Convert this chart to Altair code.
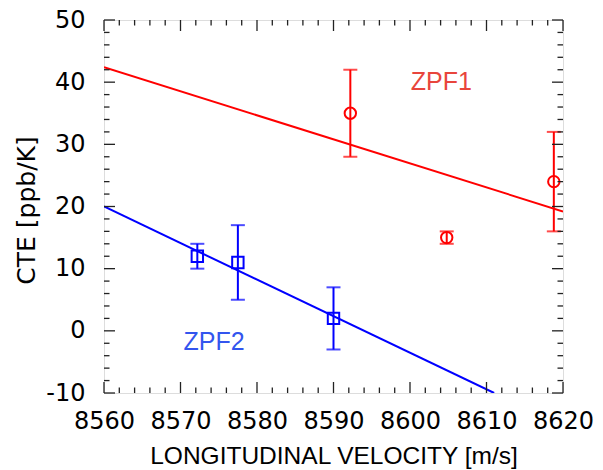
import altair as alt
import pandas as pd

# ---- data ----
zpf1_v = [8592.2, 8604.8, 8618.8]
zpf1_cte = [35, 15, 24]
zpf1_lo = [28, 14, 16]
zpf1_hi = [42, 16, 32]

zpf2_v = [8572.2, 8577.5, 8590.0]
zpf2_cte = [12, 11, 2]
zpf2_lo = [10, 5, -3]
zpf2_hi = [14, 17, 7]

fit1_v = [8560, 8620]
fit1_cte = [42.4, 19.2]
fit2_v = [8560, 8611]
fit2_cte = [20, -10]

label_text = ["ZPF1", "ZPF2"]
label_v = [8604.1, 8574.4]
label_cte = [40, -1.8]

x_ticks_major = list(range(8560, 8621, 10))
x_ticks_minor = [v for v in range(8560, 8621, 2) if v % 10 != 0]
y_ticks_major = list(range(-10, 51, 10))
y_ticks_minor = [v for v in range(-10, 51, 2) if v % 10 != 0]

W, H = 459, 373
MAJ, MIN = 11, 5.5
FONT = "DejaVu Sans"
TFONT = "Liberation Sans"
RED, BLUE = "#ff0000", "#0000ff"

xs = alt.Scale(domain=[8560, 8620], nice=False, zero=False)
ys = alt.Scale(domain=[-10, 50], nice=False, zero=False)

xaxis = alt.Axis(values=x_ticks_major, labelExpr="'' + datum.value", ticks=False,
                 domain=False, grid=False,
                 labelFontSize=24, labelFont=FONT, labelColor="black", labelPadding=16,
                 title="LONGITUDINAL VELOCITY [m/s]", titleFont=TFONT, titleFontSize=24.5,
                 titleFontWeight="normal", titleColor="black",
                 titleY=70, titleBaseline="alphabetic",
                 labelFlush=False)
yaxis = alt.Axis(values=y_ticks_major, labelExpr="'' + datum.value", ticks=False,
                 domain=False, grid=False,
                 labelFontSize=24, labelFont=FONT, labelColor="black", labelPadding=19,
                 title="CTE [ppb/K]", titleFont=FONT, titleFontSize=25,
                 titleFontWeight="normal", titleColor="black",
                 titleX=-70, titleY=190, titleBaseline="alphabetic", titleAngle=270,
                 labelFlush=False)

d1 = pd.DataFrame({"v": zpf1_v, "cte": zpf1_cte, "lo": zpf1_lo, "hi": zpf1_hi})
d2 = pd.DataFrame({"v": zpf2_v, "cte": zpf2_cte, "lo": zpf2_lo, "hi": zpf2_hi})
f1 = pd.DataFrame({"v": fit1_v, "cte": fit1_cte})
f2 = pd.DataFrame({"v": fit2_v, "cte": fit2_cte})
lab = pd.DataFrame({"t": label_text, "v": label_v, "cte": label_cte, "c": ["#e8453c", "#3355ee"]})

base_axes = alt.Chart(f1).mark_line(color=RED, strokeWidth=2, clip=True).encode(
    x=alt.X("v:Q", scale=xs, axis=xaxis),
    y=alt.Y("cte:Q", scale=ys, axis=yaxis),
)
line2 = alt.Chart(f2).mark_line(color=BLUE, strokeWidth=2, clip=True).encode(
    x=alt.X("v:Q", scale=xs), y=alt.Y("cte:Q", scale=ys))


def errs(df, color, shape):
    rule = alt.Chart(df).mark_rule(color=color, strokeWidth=2).encode(
        x=alt.X("v:Q", scale=xs), y=alt.Y("lo:Q", scale=ys), y2="hi:Q")
    caplo = alt.Chart(df).mark_tick(color=color, thickness=2, size=14, orient="horizontal").encode(
        x=alt.X("v:Q", scale=xs), y=alt.Y("lo:Q", scale=ys))
    caphi = alt.Chart(df).mark_tick(color=color, thickness=2, size=14, orient="horizontal").encode(
        x=alt.X("v:Q", scale=xs), y=alt.Y("hi:Q", scale=ys))
    pts = alt.Chart(df).mark_point(color=color, shape=shape, filled=False,
                                   strokeWidth=2, size=130, opacity=1).encode(
        x=alt.X("v:Q", scale=xs), y=alt.Y("cte:Q", scale=ys))
    return [rule, caplo, caphi, pts]


labels = alt.Chart(lab).mark_text(font=TFONT, fontSize=25, align="center",
                                  baseline="middle").encode(
    x=alt.X("v:Q", scale=xs), y=alt.Y("cte:Q", scale=ys),
    text="t:N", color=alt.Color("c:N", scale=None))


def tick_layers():
    out = []
    tx_maj = pd.DataFrame({"v": x_ticks_major})
    tx_min = pd.DataFrame({"v": x_ticks_minor})
    ty_maj = pd.DataFrame({"c": y_ticks_major})
    ty_min = pd.DataFrame({"c": y_ticks_minor})
    for df, L in [(tx_maj, MAJ), (tx_min, MIN)]:
        out.append(alt.Chart(df).mark_rule(color="#222", strokeWidth=1.3).encode(
            x=alt.X("v:Q", scale=xs), y=alt.value(H), y2=alt.value(H - L)))
        out.append(alt.Chart(df).mark_rule(color="#222", strokeWidth=1.3).encode(
            x=alt.X("v:Q", scale=xs), y=alt.value(0), y2=alt.value(L)))
    for df, L in [(ty_maj, MAJ), (ty_min, MIN)]:
        out.append(alt.Chart(df).mark_rule(color="#222", strokeWidth=1.3).encode(
            y=alt.Y("c:Q", scale=ys), x=alt.value(0), x2=alt.value(L)))
        out.append(alt.Chart(df).mark_rule(color="#222", strokeWidth=1.3).encode(
            y=alt.Y("c:Q", scale=ys), x=alt.value(W), x2=alt.value(W - L)))
    return out


chart = alt.layer(
    base_axes, line2,
    *errs(d1, RED, "circle"),
    *errs(d2, BLUE, "square"),
    labels,
    *tick_layers(),
).properties(
    width=W, height=H,
    autosize=alt.AutoSizeParams(type="none"),
    padding={"left": 96, "top": 12, "right": 32, "bottom": 76},
).configure_view(stroke="black", strokeWidth=2).configure(background="white")

chart.save("out.html", embed_options={"renderer": "svg", "actions": False})
